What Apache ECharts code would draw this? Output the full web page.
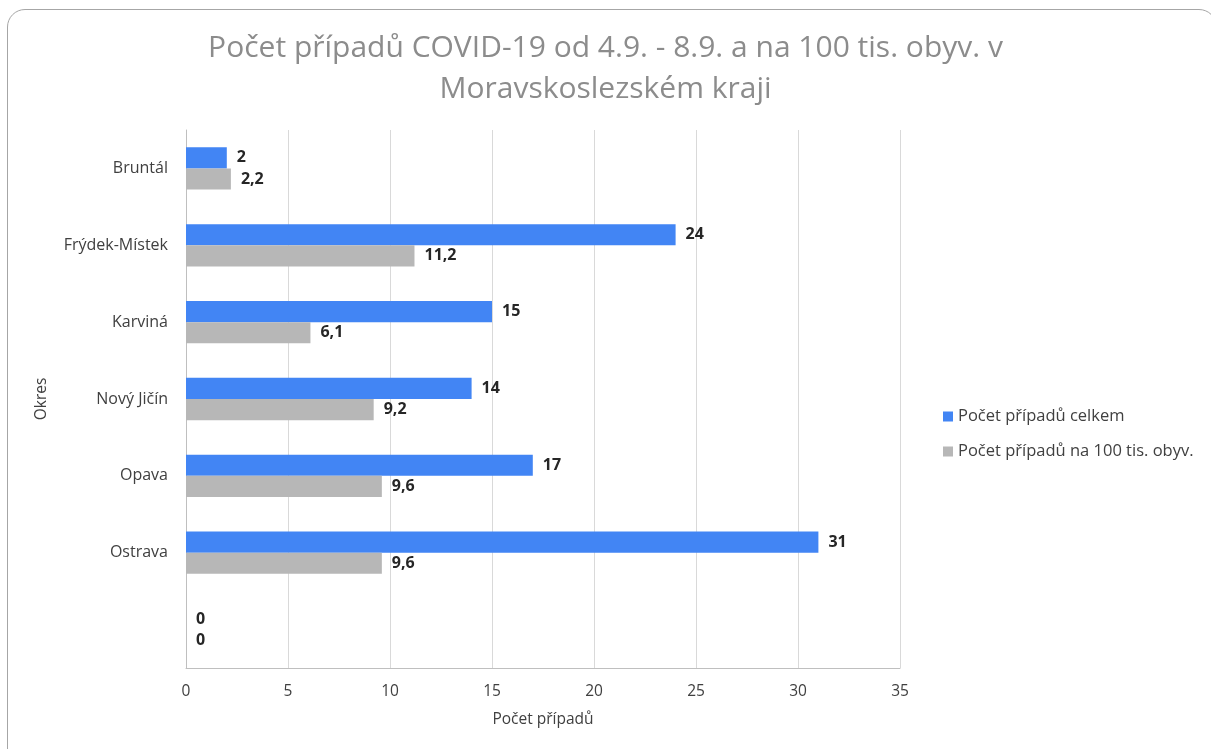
<!DOCTYPE html>
<html><head><meta charset="utf-8">
<script src="https://cdn.jsdelivr.net/npm/echarts@6/dist/echarts.min.js"></script>
<style>
html,body{margin:0;padding:0;background:#fff;}
#frame{position:absolute;left:7px;top:9px;width:1210px;height:760px;border:1.5px solid #a6a6a6;border-radius:18px;box-sizing:border-box;}
#c{position:absolute;left:0;top:0;width:1211px;height:749px;}
</style></head>
<body>
<div id="frame"></div>
<div id="c"></div>
<script>
const categories = ['Bruntál','Frýdek-Místek','Karviná','Nový Jičín','Opava','Ostrava',''];
const totalCases = [2,24,15,14,17,31,0];
const per100k = [2.2,11.2,6.1,9.2,9.6,9.6,0];
const seriesNames = ['Počet případů celkem','Počet případů na 100 tis. obyv.'];
const xTicks = [0,5,10,15,20,25,30,35];

const font = '"Open Sans", "Noto Sans", sans-serif';
const chart = echarts.init(document.getElementById('c'));
const fmt = p => String(p.value).replace('.', ',');
chart.setOption({
  animation:false,
  textStyle:{fontFamily:font},
  title:{
    text:'Počet případů COVID-19 od 4.9. - 8.9. a na 100 tis. obyv. v\nMoravskoslezském kraji',
    left:'center', top:23,
    textStyle:{fontFamily:font,fontSize:30,fontWeight:'normal',color:'#8c8c8c',lineHeight:41}
  },
  legend:{
    orient:'vertical', left:938, top:403, itemGap:18,
    itemWidth:10,itemHeight:10,icon:'rect',
    textStyle:{fontFamily:font,fontSize:16.5,color:'#404040'},
    data:seriesNames
  },
  grid:{left:186,right:311,top:130,bottom:81,containLabel:false},
  xAxis:{
    type:'value',min:0,max:35,interval:5,
    name:'Počet případů',nameLocation:'middle',nameGap:44,
    nameTextStyle:{fontFamily:font,fontSize:15.5,color:'#404040'},
    axisLine:{show:true,lineStyle:{color:'#bfbfbf'}},
    axisTick:{show:false},
    axisLabel:{fontFamily:font,fontSize:15.5,color:'#404040',margin:16,
      formatter:v=>xTicks.includes(v)?String(v):''},
    splitLine:{show:true,lineStyle:{color:'#d9d9d9'}}
  },
  yAxis:{
    type:'category',data:categories,inverse:true,
    name:'Okres',nameLocation:'middle',nameGap:136,nameRotate:90,
    nameTextStyle:{fontFamily:font,fontSize:15.5,color:'#404040'},
    axisLine:{show:true,lineStyle:{color:'#bfbfbf'}},
    axisTick:{show:false},
    axisLabel:{fontFamily:font,fontSize:16,color:'#404040',margin:18}
  },
  series:[
    {name:seriesNames[0],type:'bar',data:totalCases,barGap:'0%',barCategoryGap:'45%',
     itemStyle:{color:'#4285f4'},
     label:{show:true,position:'right',distance:10,formatter:fmt,fontFamily:font,fontSize:16,fontWeight:'bold',color:'#262626'}},
    {name:seriesNames[1],type:'bar',data:per100k,
     itemStyle:{color:'#b7b7b7'},
     label:{show:true,position:'right',distance:10,formatter:fmt,fontFamily:font,fontSize:16,fontWeight:'bold',color:'#262626'}}
  ]
});
</script>
</body></html>
